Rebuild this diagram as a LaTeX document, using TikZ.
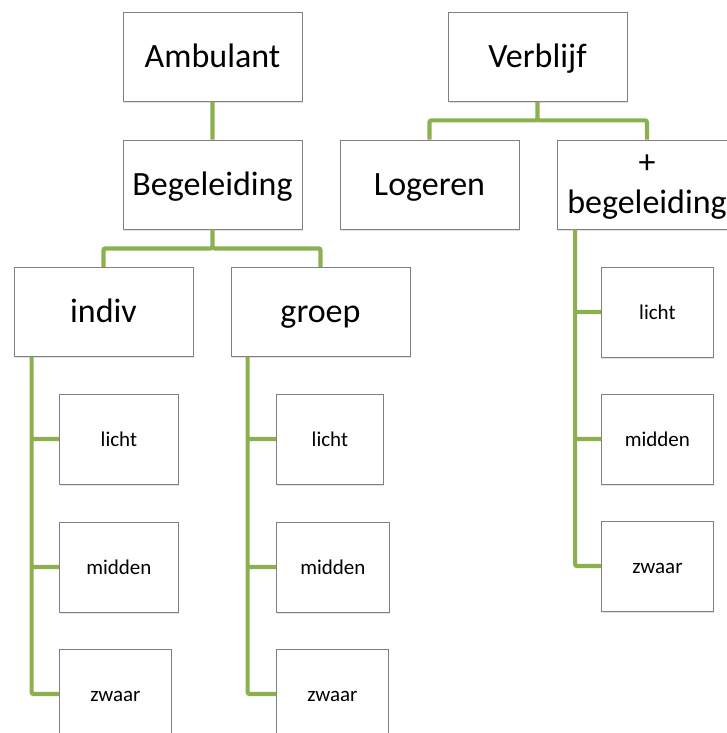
\documentclass[tikz,border=0pt]{standalone}
\usepackage{fontspec}
\setmainfont{Carlito}
\usetikzlibrary{positioning, shadows}

\definecolor{olive}{RGB}{140,176,80}
\definecolor{boxline}{RGB}{128,128,128}

\begin{document}
\begin{tikzpicture}[x=1pt, y=-1pt, on grid,
  box/.style={draw=boxline, line width=0.8pt, fill=white, align=center,
    minimum width=179pt, minimum height=89pt, inner sep=0pt,
    text height=28pt, text depth=7pt,
    drop shadow={opacity=0.22, shadow xshift=0.6pt, shadow yshift=-1.6pt},
    font=\fontsize{34}{40}\selectfont},
  leaf/.style={box, minimum width=112pt, minimum height=90pt, anchor=west,
    text height=17.5pt, text depth=3.5pt,
    font=\fontsize{21}{25}\selectfont},
  link/.style={draw=olive, line width=4.2pt, rounded corners=2pt}]
  \useasboundingbox (0,0) rectangle (726,733);

  % top row
  \node[box] (amb) at (212.5,57) {Ambulant};
  \node[box] (verb) at (537.5,57) {Verblijf};

  % second row
  \node[box] (beg) [below=127.5pt of amb] {Begeleiding};
  \node[box] (log) [below left=127.5pt and 108pt of verb] {Logeren};
  \node[box, text height=, text depth=-4pt] (plusbeg) [below right=127.5pt and 109.5pt of verb] {+\\begeleiding};

  % third row
  \node[box] (indiv) [below left=127.5pt and 109pt of beg] {indiv};
  \node[box] (groep) [below right=127.5pt and 108pt of beg] {groep};

  % leaves
  \node[leaf, minimum width=119pt] (ilicht) at (59,439) {licht};
  \node[leaf, minimum width=119pt] (imidden) at (59,567) {midden};
  \node[leaf] (izwaar) at (59,694) {zwaar};
  \node[leaf, minimum width=107pt] (glicht) at (276,439) {licht};
  \node[leaf, minimum width=113pt] (gmidden) at (276,567) {midden};
  \node[leaf] (gzwaar) at (276,694) {zwaar};
  \node[leaf] (vlicht) at (601,312) {licht};
  \node[leaf] (vmidden) at (601,439) {midden};
  \node[leaf] (vzwaar) at (601,566) {zwaar};

  \coordinate (itrunk) at ([xshift=18pt]indiv.south west);
  \coordinate (gtrunk) at ([xshift=17pt]groep.south west);
  \coordinate (vtrunk) at ([xshift=18pt]plusbeg.south west);

  \path[link]
  (amb) -- (beg)
  (beg.south) -- ++(0,19) -| (indiv.north)
  (beg.south) -- ++(0,19) -| (groep.north)
  (verb.south) -- ++(0,18.5) -| (log.north)
  (verb.south) -- ++(0,18.5) -| (plusbeg.north)
  (itrunk) |- (izwaar.west)
    (itrunk |- ilicht.west) -- (ilicht.west)
    (itrunk |- imidden.west) -- (imidden.west)
  (gtrunk) |- (gzwaar.west)
    (gtrunk |- glicht.west) -- (glicht.west)
    (gtrunk |- gmidden.west) -- (gmidden.west)
  (vtrunk) |- (vzwaar.west)
    (vtrunk |- vlicht.west) -- (vlicht.west)
    (vtrunk |- vmidden.west) -- (vmidden.west);
\end{tikzpicture}
\end{document}
